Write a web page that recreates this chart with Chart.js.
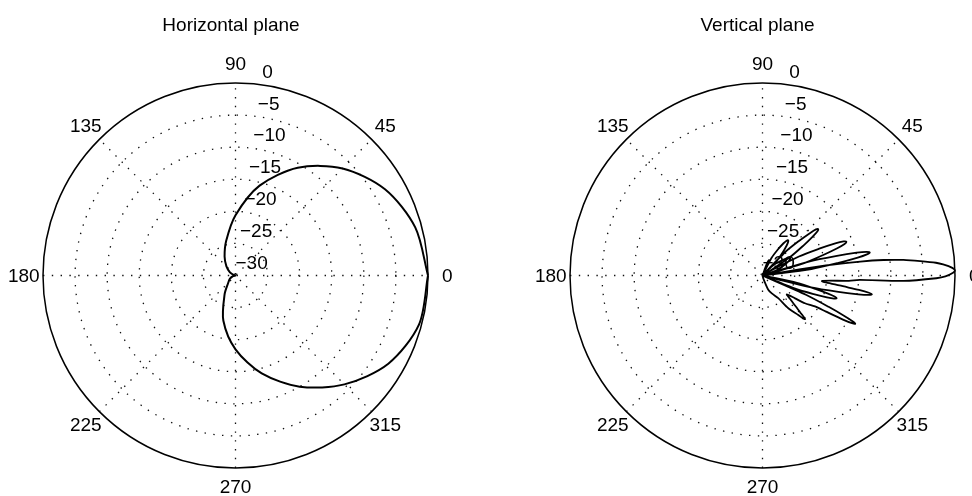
<!DOCTYPE html>
<html>
<head>
<meta charset="utf-8">
<script src="https://cdn.jsdelivr.net/npm/chart.js@4.4.0/dist/chart.umd.min.js"></script>
<style>
  html, body { margin: 0; padding: 0; background: #fff; overflow: hidden; }
  #wrap { position: relative; width: 972px; height: 496px; }
  #wrap canvas { position: absolute; top: 0; }
</style>
</head>
<body>
<div id="wrap">
  <canvas id="hChart" width="486" height="496" style="left:0"></canvas>
  <canvas id="vChart" width="486" height="496" style="left:486px"></canvas>
</div>
<script>
"use strict";

// horizontal plane: gain (dB) against azimuth (deg)
const hAngles = [0, 15, 30, 45, 60, 75, 90, 105, 120, 135, 150, 165, 180,
  195, 210, 225, 240, 255, 270, 285, 300, 315, 330, 345, 360];
const hGain = [0, -1.0, -3.1, -6.4, -10.6, -15.5, -20.6, -24.4, -26.6, -28.0, -29.0, -29.7, -30.0,
  -29.6, -29.0, -28.4, -26.6, -22.7, -18.5, -14.2, -10.0, -6.0, -2.5, -0.4, 0];

// vertical plane: gain (dB) against elevation (deg), traced lobe by lobe
const vAngles = [-90, -75, -68, -62, -55.3, -51.8, -47.8, -46.7, -45.7, -44.8,
  -43, -40.5, -37.8, -35.1, -33.2, -30.5, -29.65, -28.7, -28.05, -27.5,
  -26.95, -26.3, -25.35, -23.9, -21, -22.0, -20.0, -18.7, -17.9, -17.1,
  -16.3, -15.5, -14.2, -12.2, -13, -13.8, -12.2, -11.1, -10.4, -9.8,
  -9.2, -8.5, -7.4, -5.3, -3.5, -2.6, -2.2, -0.9, -0.3, 0.8,
  1.5, 2.3, 3.5, 4.2, 5.2, 6.3, 7.3, 8.1, 9.0, 9.8,
  7.5, 9.4, 10.6, 11.4, 12.1, 12.8, 13.6, 14.8, 16.7, 17,
  16.3, 18.6, 20.0, 21.0, 21.9, 22.8, 23.8, 25.2, 27.5, 27,
  20.4, 25.1, 28.1, 30.2, 32, 33.8, 35.9, 38.9, 43.6, 35,
  33.7, 36.2, 37.8, 38.8, 39.8, 40.8, 41.8, 43.4, 45.9, 45,
  45.3, 48.8, 51.1, 52.6, 54, 55.4, 56.9, 59.2, 62.7, 60,
  64, 67, 70, 75, 90];
const vGain = [-30, -29.5, -27.6, -26.8, -25.7, -23.5, -21.7, -20.8, -20.5, -21.3,
  -22.9, -24.3, -25.2, -23.8, -22.1, -20.5, -18.6, -15.7, -14.2, -13.7,
  -14.2, -15.7, -18.6, -22.6, -30, -24.5, -21.5, -19.4, -18.3, -17.9,
  -18.3, -19.4, -21.5, -24.5, -30, -22.2, -17.9, -14.8, -13.2, -12.7,
  -13.2, -14.8, -17.9, -20.7, -16.5, -14.8, -8.0, -2.9, -1.5, -0.3,
  0, -0.4, -1.8, -2.9, -5.3, -7.9, -11, -14.6, -20, -30,
  -22.3, -18.0, -14.9, -13.4, -12.9, -13.4, -14.9, -18.0, -22.3, -30,
  -23.6, -20.1, -17.6, -16.3, -15.9, -16.3, -17.6, -20.1, -23.6, -30,
  -27.7, -26.4, -25.5, -25.1, -24.9, -25.1, -25.5, -26.4, -27.7, -30,
  -24.9, -22.1, -20.1, -19.0, -18.7, -19.0, -20.1, -22.1, -24.9, -30,
  -26.9, -25.2, -24.0, -23.4, -23.2, -23.4, -24.0, -25.2, -26.9, -30,
  -28, -27.4, -28.2, -30, -30];

const ringLevels = [0, -5, -10, -15, -20, -25, -30];
const angleTicks = [0, 45, 90, 135, 180, 225, 270, 315];
const spokeAngles = [0, 45, 90, 135];

const DEG = Math.PI / 180;
const FLOOR = -30;          // dB value sitting at the centre
const RADIUS_PX = 192.5;    // outer circle radius on screen
const UNIT = RADIUS_PX / (0 - FLOOR);
const FONT = '"Liberation Sans", Arial, Helvetica, sans-serif';

function toXY(angles, gain) {
  return angles.map((a, i) => {
    const r = Math.max(gain[i] - FLOOR, 0);
    return { x: r * Math.cos(a * DEG), y: r * Math.sin(a * DEG) };
  });
}

// polar grid, rim, labels and title, all placed through the chart scales
const polarFrame = {
  id: 'polarFrame',
  beforeDatasetsDraw(chart, args, opts) {
    const ctx = chart.ctx;
    const sx = chart.scales.x, sy = chart.scales.y;
    const cx = sx.getPixelForValue(0), cy = sy.getPixelForValue(0);
    const k = sx.getPixelForValue(1) - cx;
    const R = (0 - FLOOR) * k;

    ctx.save();
    ctx.strokeStyle = '#111';
    ctx.lineWidth = 1.3;
    ctx.setLineDash([1.4, 7.4]);
    ringLevels.forEach(level => {
      if (level === 0 || level === FLOOR) return;
      ctx.beginPath();
      ctx.arc(cx, cy, (level - FLOOR) * k, 0, Math.PI * 2);
      ctx.stroke();
    });
    spokeAngles.forEach(a => {
      const dx = R * Math.cos(a * DEG), dy = R * Math.sin(a * DEG);
      ctx.beginPath();
      ctx.moveTo(cx - dx, cy + dy);
      ctx.lineTo(cx + dx, cy - dy);
      ctx.stroke();
    });

    ctx.setLineDash([]);
    ctx.strokeStyle = '#000';
    ctx.lineWidth = 1.5;
    ctx.beginPath();
    ctx.arc(cx, cy, R, 0, Math.PI * 2);
    ctx.stroke();

    ctx.fillStyle = '#000';
    ctx.font = '19px ' + FONT;
    ctx.textAlign = 'center';
    ctx.textBaseline = 'middle';
    angleTicks.forEach(a => {
      ctx.fillText(String(a), cx + 1.1 * R * Math.cos(a * DEG), cy - 1.1 * R * Math.sin(a * DEG) + 1);
    });

    ctx.textAlign = 'left';
    ctx.textBaseline = 'alphabetic';
    ringLevels.forEach(level => {
      const r = (level - FLOOR) * k;
      const txt = level === 0 ? '0' : '\u2212' + Math.abs(level);
      ctx.fillText(txt, cx + r * Math.cos(82 * DEG), cy - r * Math.sin(82 * DEG) - 7);
    });

    ctx.font = '19px ' + FONT;
    ctx.textAlign = 'center';
    ctx.fillText(opts.title, cx + opts.titleDx, opts.titleY);
    ctx.restore();
  }
};

function polarChart(id, centreX, centreY, points, title, titleDx, lineWidth, tension) {
  const el = document.getElementById(id);
  const w = el.width, h = el.height;
  return new Chart(el.getContext('2d'), {
    type: 'scatter',
    data: {
      datasets: [{
        data: points,
        showLine: true,
        borderColor: '#000',
        borderWidth: lineWidth,
        pointRadius: 0,
        tension: tension,
        fill: false
      }]
    },
    options: {
      responsive: false,
      animation: false,
      devicePixelRatio: 1,
      layout: { padding: 0 },
      scales: {
        x: { type: 'linear', display: false, min: -centreX / UNIT, max: (w - centreX) / UNIT },
        y: { type: 'linear', display: false, min: -(h - centreY) / UNIT, max: centreY / UNIT }
      },
      plugins: {
        legend: { display: false },
        tooltip: { enabled: false },
        polarFrame: { title: title, titleDx: titleDx, titleY: 30.5 }
      }
    },
    plugins: [polarFrame]
  });
}

polarChart('hChart', 235.5, 275.5, toXY(hAngles, hGain), 'Horizontal plane', -4.5, 2, 0.3);
polarChart('vChart', 276.5, 275.5, toXY(vAngles, vGain), 'Vertical plane', -5, 1.8, 0.25);
</script>
</body>
</html>
